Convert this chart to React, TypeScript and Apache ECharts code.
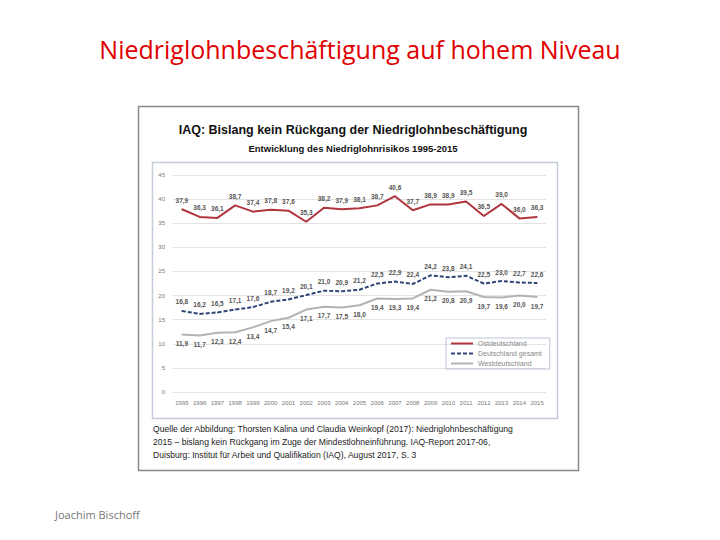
import React, { useEffect, useRef } from "react";
import * as echarts from "echarts";

const years = ["1995","1996","1997","1998","1999","2000","2001","2002","2003","2004","2005","2006","2007","2008","2009","2010","2011","2012","2013","2014","2015"];
const ost = [37.9,36.3,36.1,38.7,37.4,37.8,37.6,35.3,38.2,37.9,38.1,38.7,40.6,37.7,38.9,38.9,39.5,36.5,39.0,36.0,36.3];
const gesamt = [16.8,16.2,16.5,17.1,17.6,18.7,19.2,20.1,21.0,20.9,21.2,22.5,22.9,22.4,24.2,23.8,24.1,22.5,23.0,22.7,22.6];
const west = [11.9,11.7,12.3,12.4,13.4,14.7,15.4,17.1,17.7,17.5,18.0,19.4,19.3,19.4,21.2,20.8,20.9,19.7,19.6,20.0,19.7];
const seriesNames = ["Ostdeutschland", "Deutschland gesamt", "Westdeutschland"];
const sourceLines = [
  "Quelle der Abbildung: Thorsten Kalina und Claudia Weinkopf (2017): Niedriglohnbeschäftigung",
  "2015 – bislang kein Rückgang im Zuge der Mindestlohneinführung. IAQ-Report 2017-06,",
  "Duisburg: Institut für Arbeit und Qualifikation (IAQ), August 2017, S. 3",
];

const fmt = (p: any) => (Number(p.value).toFixed(1)).replace(".", ",");

export default function App() {
  const ref = useRef<HTMLDivElement>(null);
  useEffect(() => {
    const chart = echarts.init(ref.current!, null, { renderer: "svg" });
    const lbl = (pos: string) => ({
      show: true, position: pos, formatter: fmt, fontSize: 6.5, fontWeight: "bold",
      color: "#555", fontFamily: "Liberation Sans", distance: 5, opacity: 1,
    });
    const mk = (name: string, data: number[], color: string, type: any, pos: string) => ({
      name, type: "line", data, symbol: "circle", symbolSize: 1, showSymbol: true,
      lineStyle: { color, width: 2, type }, itemStyle: { color },
      label: lbl(pos), labelLayout: { hideOverlap: false },
    });
    chart.setOption({
      animation: false,
      backgroundColor: "#ffffff",
      textStyle: { fontFamily: "Liberation Sans" },
      grid: { left: 173, right: 174, top: 175, bottom: 148 },
      xAxis: {
        type: "category", data: years, boundaryGap: true,
        axisLine: { show: false }, axisTick: { show: false },
        axisLabel: { fontSize: 6, color: "#777", margin: 8 },
      },
      yAxis: {
        type: "value", min: 0, max: 45, interval: 5,
        axisLabel: { fontSize: 6, color: "#777", margin: 8 },
        splitLine: { lineStyle: { color: "#e3e3e3", width: 1 } },
        axisLine: { show: false }, axisTick: { show: false },
      },
      legend: {
        left: 446, top: 338, orient: "vertical", itemGap: 3,
        itemWidth: 22, itemHeight: 6, padding: [2, 8, 2, 4],
        borderColor: "#bcc4d6", borderWidth: 1,
        textStyle: { fontSize: 7, color: "#888" },
        itemStyle: { opacity: 0 },
        data: seriesNames,
      },
      series: [
        mk(seriesNames[0], ost, "#b0353f", "solid", "top"),
        mk(seriesNames[1], gesamt, "#2e4676", [4, 2], "top"),
        mk(seriesNames[2], west, "#b3b3b3", "solid", "bottom"),
      ],
      graphic: [
        { type: "text", left: "center", top: 36, style: { text: "Niedriglohnbeschäftigung auf hohem Niveau", fill: "#e00000", font: "25px 'Open Sans'" } },
        { type: "rect", z: -10, shape: { x: 138.5, y: 106.5, width: 440, height: 364 }, style: { fill: "#fff", stroke: "#8a8a8a", lineWidth: 1.5 } },
        { type: "rect", z: -9, shape: { x: 152.5, y: 162.5, width: 405, height: 256 }, style: { fill: "#fff", stroke: "#c5ccdb", lineWidth: 1.5 } },
        { type: "text", x: 353, y: 130, style: { text: "IAQ: Bislang kein Rückgang der Niedriglohnbeschäftigung", fill: "#111", font: "bold 12.5px 'Liberation Sans'", textAlign: "center", textVerticalAlign: "middle" } },
        { type: "text", x: 353, y: 148, style: { text: "Entwicklung des Niedriglohnrisikos 1995-2015", fill: "#111", font: "bold 9.5px 'Liberation Sans'", textAlign: "center", textVerticalAlign: "middle" } },
        ...sourceLines.map((t, i) => ({ type: "text", x: 153, y: 429 + i * 13, style: { text: t, fill: "#222", font: "8.6px 'Liberation Sans'", textVerticalAlign: "middle" } })),
        { type: "text", x: 55, y: 514, style: { text: "Joachim Bischoff", fill: "#777", font: "11px 'Open Sans'", textVerticalAlign: "middle" } },
      ],
    });
    return () => chart.dispose();
  }, []);
  return <div ref={ref} style={{ position: "fixed", left: 0, top: 0, width: 720, height: 540 }} />;
}
